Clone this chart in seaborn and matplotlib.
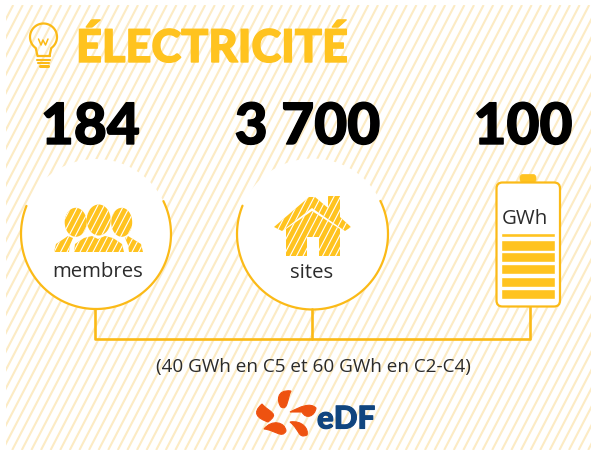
import numpy as np
import seaborn as sns
import pandas as pd
import matplotlib.pyplot as plt
import matplotlib.patheffects as pe
from matplotlib.patches import Circle, Ellipse, FancyBboxPatch, PathPatch, Rectangle
from matplotlib.path import Path
from matplotlib.collections import LineCollection

title = "ÉLECTRICITÉ"
values = ["184", "3 700", "100"]
units = ["membres", "sites", "GWh"]
note = "(40 GWh en C5 et 60 GWh en C2-C4)"
brand = "eDF"
cell_tops = [234, 241, 253, 265, 278, 290]
cell_heights = [4, 10.5, 10, 10, 10, 10]

YELLOW = "#FFC31F"
RING = "#FBBA17"
PALE = "#FCEBC4"
ORANGE = "#EE5210"
BLUE = "#10457F"
BLACK_FONT = ["Lato", "Open Sans", "DejaVu Sans"]
TEXT_FONT = ["Open Sans", "DejaVu Sans"]

sns.set_theme(style="white")
fig = plt.figure(figsize=(5.92, 4.56), dpi=100)
ax = fig.add_axes([0, 0, 1, 1])
ax.set_xlim(0, 592)
ax.set_ylim(456, 0)
ax.axis("off")


def stripes(x0, x1, y0, y1, color, step, lw, clip=None, z=1):
    # diagonal hatch, rising to the right
    h = y1 - y0
    segs = []
    for x in np.arange(x0 - h, x1 + h, step):
        segs.append([(x, y1), (x + h * 0.52, y0)])
    lc = LineCollection(segs, colors=color, linewidths=lw, zorder=z)
    ax.add_collection(lc)
    lc.set_clip_path(clip if clip is not None else Rectangle((x0, y0), x1 - x0, y1 - y0, transform=ax.transData))


def line(xs, ys, lw=1.9, z=4):
    sns.lineplot(x=xs, y=ys, sort=False, estimator=None, color=RING, linewidth=lw, ax=ax, zorder=z, legend=False)


stripes(6, 591, 6, 451, PALE, 9.6, 1.5)

# white discs + lower arc
for cx, cy, r in [(96, 235, 75), (312.5, 235, 75.5)]:
    ax.add_patch(Circle((cx, cy), r, fc="white", ec="none", zorder=2))
    t = np.radians(np.linspace(-26, 202, 160))
    line(cx + r * np.cos(t), cy + r * np.sin(t), lw=1.6)

# connector
line([94.5, 94.5, 530, 530], [310, 340, 340, 308])
line([311.5, 311.5], [310, 340])

# bulb
t = np.radians(np.linspace(125, 415, 80))
bx = 43.5 + 13.5 * np.cos(t)
by = 38 + 13.5 * np.sin(t)
line(np.r_[37.5, bx, 49.5], np.r_[57, by, 57], lw=1.6)
line([37.5, 49.5], [57, 57], lw=1.6)
line([37, 50], [60.5, 60.5], lw=1.5)
line([38, 49], [63.5, 63.5], lw=1.5)
line([39.5, 47.5], [66.5, 66.5], lw=2.2)
line([38.5, 41, 43, 45.5, 48], [40, 46, 41, 46, 40], lw=1.1)

ax.text(76, 63, title, color=YELLOW, fontsize=32.5, fontweight=900, family=BLACK_FONT, va="baseline", ha="left", zorder=5,
        path_effects=[pe.withStroke(linewidth=1.0, foreground=YELLOW)])
for x, v in zip([90.5, 307.5, 523], values):
    ax.text(x, 145, v, color="black", fontsize=41, fontweight=900, family=BLACK_FONT, va="baseline", ha="center", zorder=5,
            path_effects=[pe.withStroke(linewidth=1.0, foreground="black")])
for x, y, u in zip([98, 312, 525], [277, 278, 224], units):
    ax.text(x, y, u, color="#2B2B2B", fontsize=14.7, family=TEXT_FONT, va="baseline", ha="center", zorder=5)
ax.text(313.5, 372, note, color="#2B2B2B", fontsize=13.6, family=TEXT_FONT, va="baseline", ha="center", zorder=5)

# people icon
heads = [Ellipse((75.7, 223.3), 22, 29), Ellipse((98.7, 221), 24, 31), Ellipse((121.7, 223.3), 21, 29)]
people = [e.get_path().transformed(e.get_patch_transform()) for e in heads] + [
    Path([(74, 253), (75, 245), (84, 239), (92, 237), (98, 240), (105, 237), (113, 239), (122, 245), (124, 253), (74, 253)], closed=True),
    Path([(54, 253), (56, 245), (68, 237), (73, 239), (70, 246), (69, 253), (54, 253)], closed=True),
    Path([(143, 253), (141, 245), (128, 237), (125, 239), (128, 246), (129, 253), (143, 253)], closed=True),
]
people_patch = PathPatch(Path.make_compound_path(*people), fc=YELLOW, ec="none", zorder=5)
ax.add_patch(people_patch)
stripes(50, 146, 200, 256, "white", 6.5, 0.8, clip=people_patch, z=6)

# house icon
roof = Path([(274, 228), (309, 198), (315, 198), (328, 209), (328, 197), (340, 197), (340, 218), (351, 228),
             (345, 232), (312, 209), (282, 232), (274, 228)], closed=True)
body = Path([(286, 230), (312, 212), (340, 230), (340, 257), (319, 257), (319, 238), (307, 238), (307, 257),
             (286, 257), (286, 230)], closed=True)
house_patch = PathPatch(Path.make_compound_path(roof, body), fc=YELLOW, ec="none", zorder=5)
ax.add_patch(house_patch)
stripes(270, 355, 194, 260, "white", 6.5, 0.8, clip=house_patch, z=6)

# battery
ax.add_patch(FancyBboxPatch((520, 175.5), 16, 8, boxstyle="round,pad=0,rounding_size=3", fc=YELLOW, ec=YELLOW, lw=0.5, zorder=3))
ax.add_patch(FancyBboxPatch((496.5, 183.5), 63.5, 124, boxstyle="round,pad=0,rounding_size=6", fc="white", ec=RING, lw=1.6, zorder=3))
cells = pd.DataFrame({"top": cell_tops, "height": cell_heights})
ax.barh(cells["top"] + cells["height"] / 2, 54, height=cells["height"], left=501, color=YELLOW, zorder=5)

# logo
petals = [
    [(291, 392), (276, 390), (277, 403), (281, 408), (288, 412), (287, 400), (291, 392)],
    [(262, 405), (252, 414), (257, 419), (268, 423), (280, 414), (270, 414), (262, 405)],
    [(264, 430), (272, 420), (285, 423), (286, 432), (282, 440), (275, 431), (264, 430)],
    [(290, 423), (302, 421), (309, 430), (307, 436), (298, 440), (300, 431), (290, 423)],
    [(290, 413), (300, 408), (310, 403), (316, 409), (315, 417), (306, 421), (302, 413)],
]
for pts in petals:
    verts = pts + [pts[0]]
    codes = [Path.MOVETO] + [Path.CURVE4] * 6 + [Path.CLOSEPOLY]
    ax.add_patch(PathPatch(Path(verts, codes), fc=ORANGE, ec=ORANGE, lw=0.8, zorder=5))
ax.text(317, 429.5, brand, color=BLUE, fontsize=22.5, fontweight=900, family=BLACK_FONT, va="baseline", ha="left", zorder=5,
        path_effects=[pe.withStroke(linewidth=0.8, foreground=BLUE)])

fig.savefig("out.png", dpi=100)
